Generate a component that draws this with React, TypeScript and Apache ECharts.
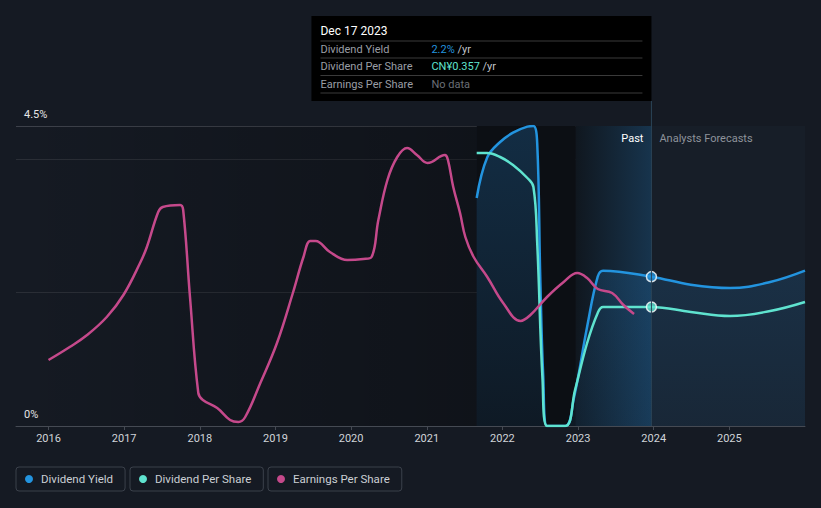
import { useEffect, useRef } from 'react';
import * as echarts from 'echarts';

// ---- data ----
const X_MIN = 2015.57;
const X_MAX = 2026.0;
const xTickValues = [2016, 2017, 2018, 2019, 2020, 2021, 2022, 2023, 2024, 2025];
const yLabelValues = [0, 4.5];

const DATA_START = 2021.66;
const DIP_END = 2022.97;
const NOW = 2023.97;

// Dividend Yield (%)
const yieldData: [number, number][] = [
  [2021.66, 3.42], [2021.8, 4.03], [2021.97, 4.26], [2022.14, 4.4], [2022.33, 4.49],
  [2022.41, 4.5], [2022.46, 4.24], [2022.5, 2.24], [2022.54, 0.74], [2022.59, 0.0],
  [2022.83, 0.0], [2022.94, 0.39], [2023.12, 1.49], [2023.26, 2.24], [2023.33, 2.33],
  [2023.97, 2.24], [2024.49, 2.12], [2025.01, 2.07], [2025.54, 2.16], [2026.0, 2.33],
];

// Dividend Per Share (CN¥)
const dpsData: [number, number][] = [
  [2021.66, 0.819], [2021.8, 0.819], [2021.97, 0.807], [2022.14, 0.783], [2022.33, 0.744],
  [2022.41, 0.717], [2022.46, 0.549], [2022.53, 0.141], [2022.59, 0.0], [2022.83, 0.0],
  [2022.96, 0.108], [2023.12, 0.249], [2023.26, 0.339], [2023.33, 0.357], [2023.97, 0.357],
  [2024.49, 0.342], [2025.01, 0.33], [2025.54, 0.345], [2026.0, 0.372],
];

// Earnings Per Share (CN¥, relative)
const epsData: [number, number][] = [
  [2016.0, 0.396], [2016.28, 0.474], [2016.51, 0.546], [2016.77, 0.654], [2016.99, 0.786],
  [2017.21, 0.978], [2017.3, 1.074], [2017.45, 1.284], [2017.51, 1.314], [2017.74, 1.326],
  [2017.78, 1.296], [2017.87, 0.774], [2017.98, 0.198], [2018.04, 0.156], [2018.23, 0.108],
  [2018.4, 0.036], [2018.51, 0.024], [2018.6, 0.054], [2018.8, 0.258], [2019.02, 0.498],
  [2019.23, 0.798], [2019.37, 1.014], [2019.46, 1.11], [2019.53, 1.11], [2019.72, 1.044],
  [2019.95, 0.996], [2020.16, 1.002], [2020.27, 1.014], [2020.36, 1.236], [2020.48, 1.476],
  [2020.61, 1.614], [2020.74, 1.668], [2020.87, 1.626], [2021.01, 1.578], [2021.24, 1.626],
  [2021.28, 1.596], [2021.35, 1.434], [2021.44, 1.278], [2021.51, 1.134], [2021.62, 1.014],
  [2021.8, 0.894], [2022.01, 0.738], [2022.24, 0.63], [2022.37, 0.666], [2022.59, 0.774],
  [2022.81, 0.864], [2022.99, 0.918], [2023.12, 0.888], [2023.26, 0.822], [2023.45, 0.798],
  [2023.6, 0.726], [2023.74, 0.672],
];

const yieldNow = 2.24;
const dpsNow = 0.357;

const tooltipDate = 'Dec 17 2023';
const tooltipRows = [
  { label: 'Dividend Yield', value: '2.2%', unit: '/yr', color: '#2394df' },
  { label: 'Dividend Per Share', value: 'CN¥0.357', unit: '/yr', color: '#5fe3cf' },
  { label: 'Earnings Per Share', value: 'No data', unit: '', color: '#6b6f76' },
];

const C_YIELD = '#2394df';
const C_DPS = '#5fe3cf';
const C_EPS = '#c5498b';
const FONT = 'Roboto';

function legendFor(name: string, left: number) {
  return {
    data: [{ name, icon: 'circle' }],
    left,
    top: 467,
    orient: 'horizontal',
    itemWidth: 14,
    itemHeight: 8,
    padding: [6, 12, 6, 9],
    borderColor: '#3b414b',
    borderWidth: 1,
    borderRadius: 3,
    selectedMode: false,
    itemStyle: { borderWidth: 0 },
    textStyle: { color: '#cbcfd4', fontSize: 11.5, fontFamily: FONT },
  };
}

function buildGraphic(nowX: number) {
  const L = nowX - 340;
  const els: any[] = [
    {
      type: 'line',
      shape: { x1: nowX, y1: 101, x2: nowX, y2: 426 },
      style: { stroke: '#2b4357', lineWidth: 1 },
      z: 50,
    },
    { type: 'rect', shape: { x: L, y: 16, width: 340, height: 85 }, style: { fill: '#000' }, z: 51 },
    {
      type: 'text', x: L + 9, y: 31, z: 52,
      style: { text: tooltipDate, fill: '#ffffff', fontSize: 12, fontFamily: FONT, verticalAlign: 'middle' },
    },
  ];
  const sepY = [41, 58, 75.5, 93];
  sepY.forEach((y) => {
    els.push({
      type: 'line', z: 52,
      shape: { x1: L + 9, y1: y, x2: L + 331, y2: y },
      style: { stroke: '#3a3a3a', lineWidth: 1 },
    });
  });
  const rowY = [49.5, 66.5, 84];
  tooltipRows.forEach((r, i) => {
    els.push({
      type: 'text', x: L + 9, y: rowY[i], z: 52,
      style: { text: r.label, fill: '#9a9ea5', fontSize: 11, fontFamily: FONT, verticalAlign: 'middle' },
    });
    els.push({
      type: 'text', x: L + 120, y: rowY[i], z: 52,
      style: {
        text: r.unit ? `{v|${r.value}} {u|${r.unit}}` : `{v|${r.value}}`,
        verticalAlign: 'middle',
        fontSize: 11,
        fontFamily: FONT,
        rich: {
          v: { fill: r.color, fontSize: 11, fontFamily: FONT },
          u: { fill: '#c0c4ca', fontSize: 11, fontFamily: FONT },
        },
      },
    });
  });
  els.push({
    type: 'text', x: nowX - 8, y: 138, z: 52,
    style: { text: 'Past', fill: '#ffffff', fontSize: 11, fontFamily: FONT, align: 'right', verticalAlign: 'middle' },
  });
  els.push({
    type: 'text', x: nowX + 8, y: 138, z: 52,
    style: { text: 'Analysts Forecasts', fill: '#8e939b', fontSize: 11, fontFamily: FONT, align: 'left', verticalAlign: 'middle' },
  });
  return els;
}

const lineCommon = {
  type: 'line',
  smooth: 0.4,
  symbol: 'none',
  showSymbol: false,
};

const option: any = {
  animation: false,
  backgroundColor: '#151a23',
  textStyle: { fontFamily: FONT },
  grid: { left: 16, right: 16, top: 126, bottom: 82, containLabel: false },
  legend: [
    legendFor('Dividend Yield', 16),
    legendFor('Dividend Per Share', 130),
    legendFor('Earnings Per Share', 268),
  ],
  xAxis: {
    type: 'value',
    min: X_MIN,
    max: X_MAX,
    axisLine: { show: true, lineStyle: { color: '#454a53', width: 1 } },
    axisTick: { show: true, customValues: xTickValues, length: 4, lineStyle: { color: '#454a53' } },
    axisLabel: {
      customValues: xTickValues,
      formatter: (v: number) => String(Math.round(v)),
      color: '#d0d4d9',
      fontSize: 11,
      fontFamily: FONT,
      margin: 7,
    },
    splitLine: { show: false },
  },
  yAxis: [
    {
      type: 'value',
      min: 0,
      max: 4.5,
      interval: 2,
      axisLine: { show: false },
      axisTick: { show: false },
      splitLine: {
        show: true,
        lineStyle: { color: ['#2a2e36', '#2a2e36', '#2a2e36', '#3d414a'], width: 1 },
      },
      axisLabel: {
        inside: true,
        customValues: yLabelValues,
        formatter: (v: number) => `${v}%`,
        color: '#e6e6e6',
        fontSize: 11,
        fontFamily: FONT,
        verticalAlign: 'bottom',
        margin: 8,
        padding: [0, 0, 6, 0],
      },
    },
    { type: 'value', min: 0, max: 0.9, show: false, splitLine: { show: false } },
    { type: 'value', min: 0, max: 1.8, show: false, splitLine: { show: false } },
  ],
  series: [
    {
      name: 'bands',
      type: 'line',
      data: [],
      z: 0,
      silent: true,
      markArea: {
        silent: true,
        data: [
          [
            {
              xAxis: X_MIN,
              itemStyle: {
                color: {
                  type: 'linear', x: 0, y: 0, x2: 1, y2: 0,
                  colorStops: [
                    { offset: 0, color: 'rgba(0,0,0,0)' },
                    { offset: 1, color: 'rgba(0,0,0,0.28)' },
                  ],
                },
              },
            },
            { xAxis: DATA_START },
          ],
          [{ xAxis: DATA_START, itemStyle: { color: '#0c0f14' } }, { xAxis: DIP_END }],
          [
            {
              xAxis: DIP_END,
              itemStyle: {
                color: {
                  type: 'linear', x: 0, y: 0, x2: 1, y2: 0,
                  colorStops: [
                    { offset: 0, color: '#10171f' },
                    { offset: 1, color: '#17344d' },
                  ],
                },
              },
            },
            { xAxis: NOW },
          ],
          [{ xAxis: NOW, itemStyle: { color: '#171e28' } }, { xAxis: X_MAX }],
        ],
      },
      markLine: {
        silent: true,
        symbol: 'none',
        label: { show: false },
        lineStyle: { color: '#1e2d3a', width: 1, type: 'solid' },
        data: [{ xAxis: DIP_END }],
        z: 0,
      },
    },
    {
      ...lineCommon,
      name: 'Dividend Yield',
      yAxisIndex: 0,
      data: yieldData,
      color: C_YIELD,
      lineStyle: { color: C_YIELD, width: 2.5 },
      areaStyle: {
        color: {
          type: 'linear', x: 0, y: 0, x2: 0, y2: 1,
          colorStops: [
            { offset: 0, color: 'rgba(40,140,220,0.34)' },
            { offset: 1, color: 'rgba(40,140,220,0.12)' },
          ],
        },
      },
      z: 3,
    },
    {
      ...lineCommon,
      name: 'Dividend Per Share',
      yAxisIndex: 1,
      data: dpsData,
      color: C_DPS,
      lineStyle: { color: C_DPS, width: 2.5 },
      z: 4,
    },
    {
      ...lineCommon,
      name: 'Earnings Per Share',
      yAxisIndex: 2,
      data: epsData,
      color: C_EPS,
      lineStyle: { color: C_EPS, width: 2.5 },
      z: 4,
    },
    {
      name: 'yieldNow',
      type: 'scatter',
      yAxisIndex: 0,
      data: [[NOW, yieldNow]],
      symbolSize: 10,
      itemStyle: { color: C_YIELD, borderColor: '#ffffff', borderWidth: 1.5 },
      z: 6,
    },
    {
      name: 'dpsNow',
      type: 'scatter',
      yAxisIndex: 1,
      data: [[NOW, dpsNow]],
      symbolSize: 10,
      itemStyle: { color: C_DPS, borderColor: '#ffffff', borderWidth: 1.5 },
      z: 6,
    },
  ],
};

export default function App() {
  const ref = useRef<HTMLDivElement>(null);
  useEffect(() => {
    const chart = echarts.init(ref.current as HTMLDivElement, null, { renderer: 'svg' });
    chart.setOption(option);
    const nowX = chart.convertToPixel({ xAxisIndex: 0 }, NOW) as number;
    chart.setOption({ graphic: buildGraphic(nowX) });
    return () => chart.dispose();
  }, []);
  return (
    <div
      ref={ref}
      style={{ position: 'fixed', left: 0, top: 0, width: 821, height: 508 }}
    />
  );
}
